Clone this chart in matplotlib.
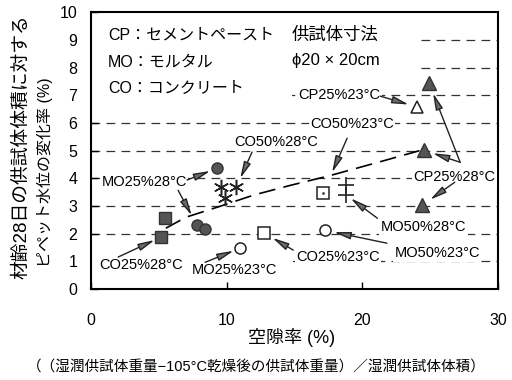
import matplotlib
matplotlib.use('Agg')
import matplotlib.pyplot as plt
from matplotlib.patches import Rectangle

plt.rcParams['font.family'] = ['Liberation Sans', 'Noto Sans CJK JP', 'DejaVu Sans']

# data (x: 空隙率 %, y: 変化率 %)
co25_28_x = [5.45, 5.15]
co25_28_y = [2.56, 1.88]
mo25_28_x = [9.26, 7.8, 8.4]
mo25_28_y = [4.36, 2.31, 2.17]
co50_28_x = [9.6, 10.7, 9.9]
co50_28_y = [3.68, 3.68, 3.3]
mo25_23_x = [10.98]
mo25_23_y = [1.48]
mo50_23_x = [17.2]
mo50_23_y = [2.13]
co25_23_x = [12.75]
co25_23_y = [2.03]
co50_23_x = [17.1]
co50_23_y = [3.48]
mo50_28_x = [18.8, 18.8]
mo50_28_y = [3.75, 3.4]
cp25_28_x = [24.9, 24.5, 24.4]
cp25_28_y = [7.45, 5.02, 3.03]
cp25_23_x = [24.0]
cp25_23_y = [6.58]

# dashed trend curve, read point by point
trend_x = [5.5, 7.0, 9.3, 12.0, 14.7, 17.6, 21.3, 24.2]
trend_y = [2.2, 2.6, 2.96, 3.4, 3.75, 4.1, 4.6, 5.0]

fig = plt.figure(figsize=(5.12, 3.8), dpi=100)
ax = fig.add_axes([0.178, 0.239, 0.795, 0.729])
ax.set_xlim(0, 30)
ax.set_ylim(0, 10)

for g in range(1, 10):
    ax.axhline(g, color='#333333', lw=0.9, dashes=(7, 5), zorder=1)

# white areas that hide grid lines behind the legend text
ax.add_patch(Rectangle((0, 7.6), 24.2, 2.2, fc='white', ec='none', zorder=2))
ax.add_patch(Rectangle((0, 6.6), 14.8, 1.0, fc='white', ec='none', zorder=2))
ax.add_patch(Rectangle((0, 0.6), 14.9, 0.6, fc='white', ec='none', zorder=2))

ax.plot(trend_x, trend_y, color='black', lw=1.2, dashes=(10, 5), zorder=3)

dark = '#555555'
ax.plot(co25_28_x, co25_28_y, 's', ms=8, mfc=dark, mec='#333333', ls='', zorder=5)
ax.plot(mo25_28_x, mo25_28_y, 'o', ms=8, mfc=dark, mec='#333333', ls='', zorder=5)
ax.plot(co50_28_x, co50_28_y, marker=(6, 2, 0), ms=11, mec='#222222', mew=1.1, ls='', zorder=5)
ax.plot(mo25_23_x, mo25_23_y, 'o', ms=8, mfc='white', mec='#222222', mew=1.1, ls='', zorder=5)
ax.plot(mo50_23_x, mo50_23_y, 'o', ms=8, mfc='white', mec='#222222', mew=1.1, ls='', zorder=5)
ax.plot(co25_23_x, co25_23_y, 's', ms=8, mfc='white', mec='#222222', mew=1.1, ls='', zorder=5)
ax.plot(co50_23_x, co50_23_y, 's', ms=8, mfc='white', mec='#222222', mew=1.1, ls='', zorder=5)
ax.plot(co50_23_x, co50_23_y, '.', ms=2, color='#444444', ls='', zorder=6)
ax.plot(mo50_28_x, mo50_28_y, '+', ms=12, mec='#222222', mew=1.2, ls='', zorder=5)
ax.plot(cp25_28_x, cp25_28_y, '^', ms=10, mfc=dark, mec='#333333', ls='', zorder=5)
ax.plot(cp25_23_x, cp25_23_y, '^', ms=9, mfc='white', mec='#222222', mew=1.1, ls='', zorder=5)

box = dict(fc='white', ec='none', pad=1)
labels = [
    ('CP25%23°C', 18.28, 7.0),
    ('CO50%23°C', 19.23, 5.96),
    ('CO50%28°C', 13.63, 5.31),
    ('MO25%28°C', 3.9, 3.86),
    ('CO25%28°C', 3.68, 0.87),
    ('MO25%23°C', 10.54, 0.69),
    ('CO25%23°C', 18.2, 1.16),
    ('MO50%23°C', 25.5, 1.30),
    ('MO50%28°C', 24.5, 2.24),
    ('CP25%28°C', 26.75, 4.04),
]
for t, lx, ly in labels:
    ax.text(lx, ly, t, fontsize=10.5, ha='center', va='center', bbox=box, zorder=7)

# arrows: start point -> marker
arrows = [
    ((21.3, 6.97), (cp25_23_x[0], cp25_23_y[0]), 6),
    ((18.87, 5.45), (co50_23_x[0], co50_23_y[0]), 16),
    ((11.86, 4.95), (co50_28_x[1], co50_28_y[1]), 7),
    ((7.07, 3.94), (mo25_28_x[0], mo25_28_y[0]), 5),
    ((6.41, 3.57), (mo25_28_x[1], mo25_28_y[1]), 8),
    ((1.99, 1.16), (co25_28_x[1], co25_28_y[1]), 5),
    ((8.4, 0.97), (mo25_23_x[0], mo25_23_y[0]), 5),
    ((14.9, 1.41), (co25_23_x[0], co25_23_y[0]), 7),
    ((21.8, 1.66), (mo50_23_x[0], mo50_23_y[0]), 7),
    ((21.1, 2.56), (mo50_28_x[1], mo50_28_y[1]), 4),
    ((27.2, 4.58), (cp25_28_x[0], cp25_28_y[0]), 8),
    ((27.2, 4.58), (cp25_28_x[1], cp25_28_y[1]), 7),
    ((26.8, 3.86), (cp25_28_x[2], cp25_28_y[2]), 7),
]
for start, end, sh in arrows:
    ax.annotate('', xy=end, xytext=start, zorder=8,
                arrowprops=dict(arrowstyle='-|>,head_length=1.0,head_width=0.22',
                                fc='#6a6a6a', ec='#222222', lw=1.0,
                                shrinkA=0, shrinkB=sh, mutation_scale=10))

ax.text(1.25, 9.17, 'CP：セメントペースト', fontsize=11.5, va='center', zorder=7)
ax.text(1.25, 8.19, 'MO：モルタル', fontsize=11.5, va='center', zorder=7)
ax.text(1.25, 7.26, 'CO：コンクリート', fontsize=11.5, va='center', zorder=7)
ax.text(14.8, 9.17, '供試体寸法', fontsize=12.5, va='center', zorder=7)
ax.text(14.8, 8.27, 'ϕ20 × 20cm', fontsize=12, va='center', zorder=7)

ax.set_xticks([0, 10, 20, 30])
ax.set_yticks(range(0, 11))
ax.tick_params(direction='in', length=5, width=1, labelsize=11.5)
ax.tick_params(axis='x', pad=17)
ax.tick_params(axis='y', pad=10)
for s in ax.spines.values():
    s.set_linewidth(1.5)

fig.text(0.57, 0.113, '空隙率 (%)', fontsize=13, ha='center', va='center')
fig.text(0.5, 0.032, '（（湿潤供試体重量−105°C乾燥後の供試体重量）／湿潤供試体体積）',
         fontsize=10.5, ha='center', va='center')
fig.text(0.043, 0.613, '材齢28日の供試体体積に対する', fontsize=13.5,
         rotation=90, ha='center', va='center')
fig.text(0.088, 0.547, 'ピペット水位の変化率 (%)', fontsize=11.5,
         rotation=90, ha='center', va='center')

fig.savefig('out.png', dpi=100)
